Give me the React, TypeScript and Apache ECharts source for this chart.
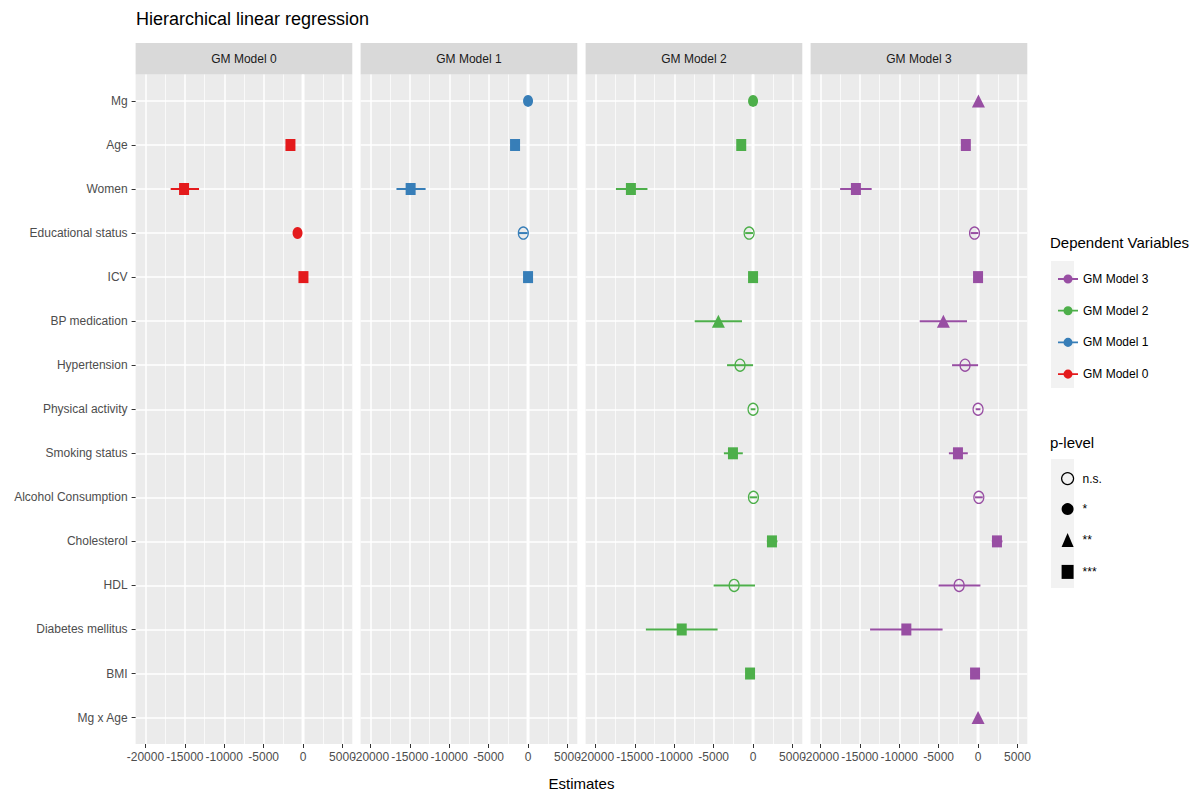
import React, { useEffect, useRef } from 'react';
import * as echarts from 'echarts';

// ---------------- data ----------------
const categories = [
  'Mg', 'Age', 'Women', 'Educational status', 'ICV', 'BP medication', 'Hypertension',
  'Physical activity', 'Smoking status', 'Alcohol Consumption', 'Cholesterol', 'HDL',
  'Diabetes mellitus', 'BMI', 'Mg x Age',
];
const models = ['GM Model 0', 'GM Model 1', 'GM Model 2', 'GM Model 3'];
const modelColors = ['#E41A1C', '#377EB8', '#4DAF4A', '#984EA3'];
const pLevels = ['n.s.', '*', '**', '***'];
const xMajorTicks = [-20000, -15000, -10000, -5000, 0, 5000];
const xMinorTicks = [-17500, -12500, -7500, -2500, 2500];
const xMin = -21250;
const xMax = 6250;

const N = null;
// GM Model 0
const est0 = [N, -1600, -15100, -700, 50, N, N, N, N, N, N, N, N, N, N];
const lo0 = [N, -1850, -16800, -950, -150, N, N, N, N, N, N, N, N, N, N];
const hi0 = [N, -1350, -13200, -450, 250, N, N, N, N, N, N, N, N, N, N];
const p0 = [N, '***', '***', '*', '***', N, N, N, N, N, N, N, N, N, N];
// GM Model 1
const est1 = [0, -1650, -14900, -600, 0, N, N, N, N, N, N, N, N, N, N];
const lo1 = [-150, -1900, -16700, -1150, -150, N, N, N, N, N, N, N, N, N, N];
const hi1 = [150, -1400, -13000, -50, 150, N, N, N, N, N, N, N, N, N, N];
const p1 = ['*', '***', '***', 'n.s.', '***', N, N, N, N, N, N, N, N, N, N];
// GM Model 2
const est2 = [0, -1500, -15500, -500, 0, -4400, -1650, 0, -2550, 50, 2400, -2400, -9050, -380, N];
const lo2 = [-150, -1700, -17400, -1000, -150, -7400, -3300, -300, -3700, -450, 1750, -5000, -13600, -600, N];
const hi2 = [150, -1300, -13400, 0, 150, -1400, 0, 300, -1300, 550, 3100, 250, -4500, -150, N];
const p2 = ['*', '***', '***', 'n.s.', '***', '**', 'n.s.', 'n.s.', '***', 'n.s.', '***', 'n.s.', '***', '***', N];
// GM Model 3
const est3 = [50, -1550, -15500, -450, 0, -4400, -1650, 0, -2550, 100, 2400, -2400, -9100, -380, 0];
const lo3 = [-100, -1750, -17500, -950, -150, -7400, -3300, -300, -3700, -400, 1750, -5000, -13700, -600, -150];
const hi3 = [200, -1350, -13500, 50, 150, -1400, 0, 300, -1300, 600, 3100, 300, -4500, -150, 150];
const p3 = ['**', '***', '***', 'n.s.', '***', '**', 'n.s.', 'n.s.', '***', 'n.s.', '***', 'n.s.', '***', '***', '**'];

const estimates = [est0, est1, est2, est3];
const lows = [lo0, lo1, lo2, lo3];
const highs = [hi0, hi1, hi2, hi3];
const plevs = [p0, p1, p2, p3];

// ---------------- layout / style ----------------
const FONT = '"Liberation Sans", Arial, Helvetica, sans-serif';
const PANEL_LEFT = 135.6;
const PANEL_PITCH = 225;
const PANEL_W = 216.7;
const PANEL_TOP = 74.5;
const PANEL_H = 669.5;
const STRIP_TOP = 43;
const STRIP_H = 31.5;
const Y_MIN = -0.6;
const Y_MAX = categories.length - 1 + 0.6;

const shapeSymbol: Record<string, string> = {
  'n.s.': 'circle', '*': 'circle', '**': 'triangle', '***': 'rect',
};
const shapeSize: Record<string, number[]> = {
  'n.s.': [10, 12], '*': [10, 12], '**': [13, 13], '***': [10, 12],
};

function itemStyleFor(p: string, color: string) {
  if (p === 'n.s.') {
    return { color: 'rgba(0,0,0,0)', borderColor: color, borderWidth: 1.3, opacity: 1 };
  }
  return { color, borderWidth: 0, opacity: 1 };
}

const catIdx = categories.map((_, i) => i);

export default function App() {
  const ref = useRef<HTMLDivElement>(null);

  useEffect(() => {
    if (!ref.current) return;
    const chart = echarts.init(ref.current, null, { renderer: 'svg' });

    const grids: any[] = [];
    const xAxes: any[] = [];
    const yAxes: any[] = [];
    const series: any[] = [];
    const graphics: any[] = [];

    models.forEach((m, k) => {
      const left = PANEL_LEFT + k * PANEL_PITCH;
      grids.push({
        left, top: PANEL_TOP, width: PANEL_W, height: PANEL_H,
        show: true, backgroundColor: '#EBEBEB', borderWidth: 0,
      });
      xAxes.push({
        type: 'value', gridIndex: k, position: 'bottom', min: xMin, max: xMax,
        axisLine: { show: false, onZero: false },
        axisTick: { show: true, length: 4, lineStyle: { color: '#333333', width: 1 }, customValues: xMajorTicks },
        axisLabel: {
          customValues: xMajorTicks, color: '#4D4D4D', fontSize: 12, margin: 7, fontFamily: FONT,
          formatter: (v: number) => String(v),
        },
        splitLine: { show: true, lineStyle: { color: '#FFFFFF', width: 1.5 } },
      });
      xAxes.push({
        type: 'value', gridIndex: k, position: 'top', min: xMin, max: xMax,
        axisLine: { show: false, onZero: false },
        axisTick: { show: false, customValues: xMinorTicks },
        axisLabel: { show: false, customValues: xMinorTicks },
        splitLine: { show: true, lineStyle: { color: '#FFFFFF', width: 0.7 } },
      });
      yAxes.push({
        type: 'value', gridIndex: k, inverse: true, min: Y_MIN, max: Y_MAX, position: 'left',
        axisLine: { show: false, onZero: false },
        axisTick: { show: k === 0, length: 4, lineStyle: { color: '#333333', width: 1 }, customValues: catIdx },
        axisLabel: {
          show: k === 0, customValues: catIdx, color: '#4D4D4D', fontSize: 12, margin: 8, fontFamily: FONT,
          formatter: (v: number) => categories[Math.round(v)] ?? '',
        },
        splitLine: { show: true, lineStyle: { color: '#FFFFFF', width: 1.5 } },
      });

      // zero reference line
      series.push({
        type: 'line', xAxisIndex: 2 * k, yAxisIndex: k,
        data: [[0, Y_MIN], [0, Y_MAX]], symbol: 'none', silent: true,
        lineStyle: { color: '#FFFFFF', width: 3 }, z: 1,
      });

      const color = modelColors[k];
      const ciRows: any[] = [];
      const ptRows: any[] = [];
      categories.forEach((_, i) => {
        const e = estimates[k][i];
        if (e === null) return;
        ciRows.push([lows[k][i], highs[k][i], i]);
        const p = plevs[k][i] as string;
        ptRows.push({
          value: [e, i],
          symbol: shapeSymbol[p],
          symbolSize: shapeSize[p],
          itemStyle: itemStyleFor(p, color),
        });
      });

      series.push({
        type: 'custom', xAxisIndex: 2 * k, yAxisIndex: k, silent: true, z: 3,
        data: ciRows, encode: { x: [0, 1], y: 2 },
        renderItem: (_params: any, api: any) => {
          const a = api.coord([api.value(0), api.value(2)]);
          const b = api.coord([api.value(1), api.value(2)]);
          return {
            type: 'line',
            shape: { x1: a[0], y1: a[1], x2: b[0], y2: b[1] },
            style: { stroke: color, lineWidth: 2 },
          };
        },
      });
      series.push({
        type: 'scatter', name: m, xAxisIndex: 2 * k, yAxisIndex: k, z: 4,
        itemStyle: { color, opacity: 1 }, data: ptRows,
      });

      graphics.push({
        type: 'rect', shape: { x: left, y: STRIP_TOP, width: PANEL_W, height: STRIP_H },
        style: { fill: '#D9D9D9' }, silent: true,
      });
      graphics.push({
        type: 'text', x: left + PANEL_W / 2, y: STRIP_TOP + STRIP_H / 2, silent: true,
        style: { text: m, fill: '#1A1A1A', fontSize: 12, fontFamily: FONT, align: 'center', verticalAlign: 'middle' },
      });
    });

    // p-level dummy series (for legend keys only)
    pLevels.forEach((p) => {
      series.push({
        type: 'scatter', name: p, xAxisIndex: 0, yAxisIndex: 0, data: [],
        symbol: shapeSymbol[p], itemStyle: itemStyleFor(p, '#000000'),
      });
    });

    // legend backgrounds & titles, axis title
    graphics.push({ type: 'rect', shape: { x: 1051, y: 261, width: 23, height: 127 }, style: { fill: '#F2F2F2' }, silent: true });
    graphics.push({ type: 'rect', shape: { x: 1051, y: 459, width: 23, height: 129 }, style: { fill: '#F2F2F2' }, silent: true });
    graphics.push({
      type: 'text', x: 1050, y: 242, silent: true,
      style: { text: 'Dependent Variables', fill: '#000', fontSize: 15, fontFamily: FONT, align: 'left', verticalAlign: 'middle' },
    });
    graphics.push({
      type: 'text', x: 1050, y: 442, silent: true,
      style: { text: 'p-level', fill: '#000', fontSize: 15, fontFamily: FONT, align: 'left', verticalAlign: 'middle' },
    });
    graphics.push({
      type: 'text', x: PANEL_LEFT + (3 * PANEL_PITCH + PANEL_W) / 2, y: 783, silent: true,
      style: { text: 'Estimates', fill: '#000', fontSize: 15, fontFamily: FONT, align: 'center', verticalAlign: 'middle' },
    });

    const lineDotIcon = 'path://M0,6L22,6L22,8L0,8Z M16,7A5,5,0,1,1,6,7A5,5,0,1,1,16,7Z';

    chart.setOption({
      animation: false,
      backgroundColor: '#FFFFFF',
      title: {
        text: 'Hierarchical linear regression', left: 131, top: 5,
        textStyle: { fontSize: 18, fontWeight: 'normal', color: '#000', fontFamily: FONT },
      },
      grid: grids,
      xAxis: xAxes,
      yAxis: yAxes,
      legend: [
        {
          data: models.slice().reverse(), orient: 'vertical', left: 1053, top: 268,
          itemWidth: 20, itemHeight: 14, itemGap: 19.7, icon: lineDotIcon, selectedMode: false,
          itemStyle: { opacity: 1 },
          textStyle: { fontSize: 12, color: '#000', fontFamily: FONT, padding: [0, 0, 0, 0] },
        },
        {
          data: pLevels.map((p) => ({ name: p, icon: shapeSymbol[p], itemStyle: p === 'n.s.' ? { borderWidth: 1.2 } : {} })),
          orient: 'vertical', left: 1056, top: 467,
          itemWidth: 12, itemHeight: 14, itemGap: 17.9, selectedMode: false,
          itemStyle: { opacity: 1 },
          textStyle: { fontSize: 12, color: '#000', fontFamily: FONT, padding: [0, 0, 0, 4] },
        },
      ],
      graphic: graphics,
      series,
    });

    return () => chart.dispose();
  }, []);

  return (
    <div
      ref={ref}
      style={{ position: 'fixed', left: 0, top: 0, width: 1202, height: 794, background: '#fff' }}
    />
  );
}
